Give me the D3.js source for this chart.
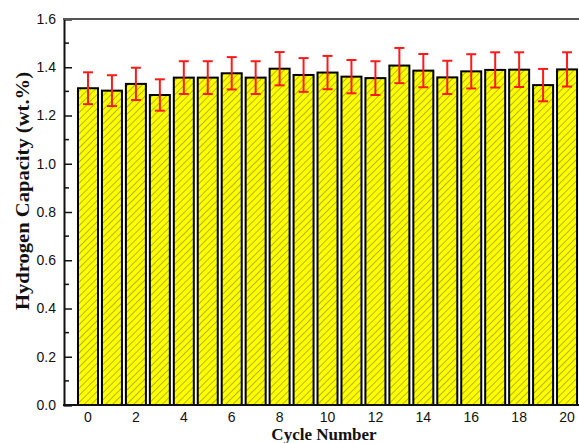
<!DOCTYPE html>
<html>
<head>
<meta charset="utf-8">
<script src="https://cdn.jsdelivr.net/npm/d3@7"></script>
<style>
  body { margin: 0; background: #fff; }
  svg { display: block; }
</style>
</head>
<body>
<div id="chart-area"></div>
<script>
// cycle numbers, capacity values and error half-widths
var cycles = [0, 1, 2, 3, 4, 5, 6, 7, 8, 9, 10, 11, 12, 13, 14, 15, 16, 17, 18, 19, 20];
var capacity = [1.313, 1.303, 1.331, 1.285, 1.357, 1.357, 1.375, 1.357, 1.394, 1.368, 1.378,
                1.361, 1.355, 1.407, 1.386, 1.358, 1.383, 1.389, 1.390, 1.326, 1.391];
var errors = [0.066, 0.064, 0.067, 0.065, 0.068, 0.068, 0.067, 0.068, 0.069, 0.070, 0.069,
              0.069, 0.070, 0.073, 0.069, 0.069, 0.071, 0.073, 0.072, 0.067, 0.071];
var yTicks = [0, 0.2, 0.4, 0.6, 0.8, 1.0, 1.2, 1.4, 1.6];
var xTicks = [0, 2, 4, 6, 8, 10, 12, 14, 16, 18, 20];

var rows = cycles.map(function(c, i){
    return { cycle: c, value: capacity[i], err: errors[i] };
});

var width = 579, height = 443;
var plotLeft = 64, plotTop = 19, plotBottom = 405, plotRight = 591;

var svg = d3.select("#chart-area").append("svg")
    .attr("width", width)
    .attr("height", height);

// hatch pattern for the bars
var defs = svg.append("defs");
var pat = defs.append("pattern")
    .attr("id", "hatch")
    .attr("patternUnits", "userSpaceOnUse")
    .attr("width", 5)
    .attr("height", 5)
    .attr("patternTransform", "rotate(45)");
pat.append("rect")
    .attr("width", 5).attr("height", 5)
    .attr("fill", "#ffff00");
pat.append("line")
    .attr("x1", 0).attr("y1", 0)
    .attr("x2", 0).attr("y2", 5)
    .attr("stroke", "#7a7a10")
    .attr("stroke-width", 1.1);

var x = d3.scaleLinear().domain([-0.96, 21]).range([plotLeft + 1, plotRight]);
var y = d3.scaleLinear().domain([0, 1.6]).range([plotBottom, plotTop]);
var barW = 20;

// y axis, ticks pointing inward
var yAxis = d3.axisLeft(y)
    .tickValues(yTicks)
    .tickSize(-8)
    .tickPadding(8)
    .tickFormat(d3.format(".1f"));
var gy = svg.append("g")
    .attr("transform", "translate(" + plotLeft + ",0)")
    .call(yAxis);
gy.select(".domain").attr("stroke", "#111").attr("stroke-width", 2);
gy.selectAll(".tick line").attr("stroke", "#111").attr("stroke-width", 1.5);
gy.selectAll(".tick text")
    .attr("font-family", "'Liberation Sans', Arial, sans-serif")
    .attr("font-size", "14px")
    .attr("fill", "#111");

// minor y ticks
var minor = d3.range(1, 16, 2).map(function(k){ return k / 10; });
svg.selectAll("line.minor")
    .data(minor)
    .enter()
    .append("line")
        .attr("class", "minor")
        .attr("x1", plotLeft).attr("x2", plotLeft + 5)
        .attr("y1", function(d){ return y(d); })
        .attr("y2", function(d){ return y(d); })
        .attr("stroke", "#111").attr("stroke-width", 1.5);

// bars
svg.selectAll("rect.bar")
    .data(rows)
    .enter()
    .append("rect")
        .attr("class", "bar")
        .attr("x", function(d){ return x(d.cycle) - barW / 2; })
        .attr("y", function(d){ return y(d.value); })
        .attr("width", barW)
        .attr("height", function(d){ return y(0) - y(d.value); })
        .attr("fill", "url(#hatch)")
        .attr("stroke", "#000")
        .attr("stroke-width", 2);

// error bars
var eb = svg.selectAll("g.err")
    .data(rows)
    .enter()
    .append("g")
        .attr("class", "err")
        .attr("stroke", "#ff1a1a")
        .attr("stroke-width", 2);
eb.append("line")
    .attr("x1", function(d){ return x(d.cycle); })
    .attr("x2", function(d){ return x(d.cycle); })
    .attr("y1", function(d){ return y(d.value + d.err); })
    .attr("y2", function(d){ return y(d.value - d.err); });
eb.append("line")
    .attr("x1", function(d){ return x(d.cycle) - 5; })
    .attr("x2", function(d){ return x(d.cycle) + 5; })
    .attr("y1", function(d){ return y(d.value + d.err); })
    .attr("y2", function(d){ return y(d.value + d.err); });
eb.append("line")
    .attr("x1", function(d){ return x(d.cycle) - 5; })
    .attr("x2", function(d){ return x(d.cycle) + 5; })
    .attr("y1", function(d){ return y(d.value - d.err); })
    .attr("y2", function(d){ return y(d.value - d.err); });

// frame
svg.append("line")
    .attr("x1", plotLeft - 1).attr("x2", plotRight + 2)
    .attr("y1", plotTop).attr("y2", plotTop)
    .attr("stroke", "#555").attr("stroke-width", 2);
svg.append("line")
    .attr("x1", plotLeft - 1).attr("x2", plotRight + 2)
    .attr("y1", plotBottom).attr("y2", plotBottom)
    .attr("stroke", "#111").attr("stroke-width", 2);

// x tick labels
svg.selectAll("text.xt")
    .data(xTicks)
    .enter()
    .append("text")
        .attr("class", "xt")
        .attr("x", function(d){ return x(d); })
        .attr("y", plotBottom + 16.5)
        .attr("text-anchor", "middle")
        .attr("font-family", "'Liberation Sans', Arial, sans-serif")
        .attr("font-size", "14px")
        .attr("fill", "#111")
        .text(function(d){ return d; });

// axis titles
svg.append("text")
    .attr("x", 324)
    .attr("y", 440)
    .attr("text-anchor", "middle")
    .attr("font-family", "'Liberation Serif', 'Times New Roman', serif")
    .attr("font-weight", "bold")
    .attr("font-size", "17px")
    .attr("fill", "#111")
    .text("Cycle Number");

svg.append("text")
    .attr("transform", "translate(29,191) rotate(-90)")
    .attr("text-anchor", "middle")
    .attr("font-family", "'Liberation Serif', 'Times New Roman', serif")
    .attr("font-weight", "bold")
    .attr("font-size", "19px")
    .attr("textLength", 238)
    .attr("lengthAdjust", "spacingAndGlyphs")
    .attr("fill", "#111")
    .text("Hydrogen Capacity (wt.%)");
</script>
</body>
</html>
